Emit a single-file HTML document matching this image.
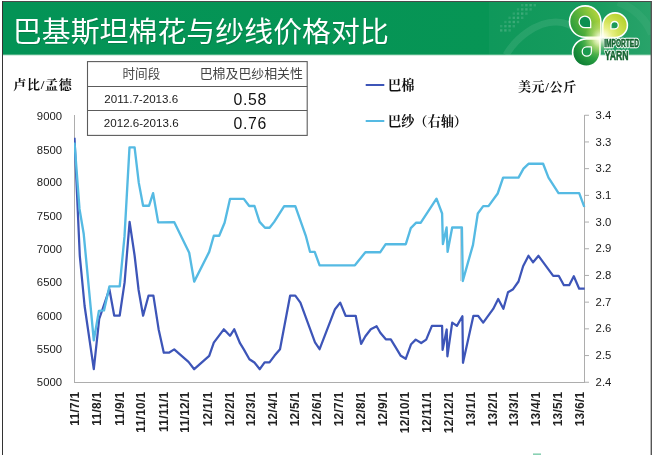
<!DOCTYPE html>
<html lang="zh"><head><meta charset="utf-8"><title>巴基斯坦棉花与纱线价格对比</title>
<style>html,body{margin:0;padding:0;background:#fff}body{width:652px;height:455px;overflow:hidden;font-family:"Liberation Sans",sans-serif}svg{display:block;will-change:transform}text{font-family:"Liberation Sans","Noto Sans CJK SC",sans-serif}</style>
</head><body>
<svg width="652" height="455" viewBox="0 0 652 455">
<defs>
<linearGradient id="hg" x1="0" y1="0" x2="1" y2="0"><stop offset="0" stop-color="#039356"/><stop offset="0.75" stop-color="#079555"/><stop offset="0.9" stop-color="#0e9859"/><stop offset="1" stop-color="#22a065"/></linearGradient>
<linearGradient id="p1" x1="0" y1="1" x2="1" y2="0"><stop offset="0" stop-color="#2aa33a"/><stop offset="0.55" stop-color="#8cc63e"/><stop offset="1" stop-color="#d7e36a"/></linearGradient>
<linearGradient id="p2" x1="1" y1="0" x2="0" y2="1"><stop offset="0" stop-color="#9acb3c"/><stop offset="0.6" stop-color="#c9dc3a"/><stop offset="1" stop-color="#eef3a0"/></linearGradient>
<linearGradient id="p3" x1="0" y1="1" x2="1" y2="0"><stop offset="0" stop-color="#0a7a35"/><stop offset="0.6" stop-color="#2aa340"/><stop offset="1" stop-color="#b9db7a"/></linearGradient>
<clipPath id="plot"><rect x="74" y="100" width="512" height="290"/></clipPath>
<clipPath id="hdr"><rect x="3" y="2" width="648" height="52.8"/></clipPath>
</defs>
<rect width="652" height="455" fill="#fff"/>
<rect x="3" y="2" width="648" height="52.8" fill="url(#hg)"/>
<rect x="3" y="54.6" width="648" height="1" fill="#8fcfae" opacity="0.6"/>
<g clip-path="url(#hdr)"><rect x="489" y="2" width="162" height="52.8" fill="#fff" opacity="0.035"/><rect x="500.0" y="25.0" width="2.4" height="2.4" fill="#fff" opacity="0.11"/><rect x="500.0" y="29.2" width="2.4" height="2.4" fill="#fff" opacity="0.17"/><rect x="504.2" y="20.8" width="2.4" height="2.4" fill="#fff" opacity="0.11"/><rect x="504.2" y="25.0" width="2.4" height="2.4" fill="#fff" opacity="0.16"/><rect x="504.2" y="29.2" width="2.4" height="2.4" fill="#fff" opacity="0.18"/><rect x="508.4" y="16.6" width="2.4" height="2.4" fill="#fff" opacity="0.11"/><rect x="508.4" y="20.8" width="2.4" height="2.4" fill="#fff" opacity="0.16"/><rect x="508.4" y="25.0" width="2.4" height="2.4" fill="#fff" opacity="0.18"/><rect x="508.4" y="29.2" width="2.4" height="2.4" fill="#fff" opacity="0.13"/><rect x="512.6" y="12.4" width="2.4" height="2.4" fill="#fff" opacity="0.11"/><rect x="512.6" y="16.6" width="2.4" height="2.4" fill="#fff" opacity="0.17"/><rect x="512.6" y="20.8" width="2.4" height="2.4" fill="#fff" opacity="0.18"/><rect x="512.6" y="25.0" width="2.4" height="2.4" fill="#fff" opacity="0.13"/><rect x="516.8" y="8.2" width="2.4" height="2.4" fill="#fff" opacity="0.11"/><rect x="516.8" y="12.4" width="2.4" height="2.4" fill="#fff" opacity="0.16"/><rect x="516.8" y="16.6" width="2.4" height="2.4" fill="#fff" opacity="0.18"/><rect x="516.8" y="20.8" width="2.4" height="2.4" fill="#fff" opacity="0.13"/><rect x="521.0" y="4.0" width="2.4" height="2.4" fill="#fff" opacity="0.11"/><rect x="521.0" y="8.2" width="2.4" height="2.4" fill="#fff" opacity="0.16"/><rect x="521.0" y="12.4" width="2.4" height="2.4" fill="#fff" opacity="0.18"/><rect x="521.0" y="16.6" width="2.4" height="2.4" fill="#fff" opacity="0.13"/><rect x="525.2" y="4.0" width="2.4" height="2.4" fill="#fff" opacity="0.17"/><rect x="525.2" y="8.2" width="2.4" height="2.4" fill="#fff" opacity="0.18"/><rect x="525.2" y="12.4" width="2.4" height="2.4" fill="#fff" opacity="0.13"/><rect x="529.4" y="4.0" width="2.4" height="2.4" fill="#fff" opacity="0.18"/><rect x="529.4" y="8.2" width="2.4" height="2.4" fill="#fff" opacity="0.13"/><rect x="533.6" y="4.0" width="2.4" height="2.4" fill="#fff" opacity="0.13"/><path d="M506 55C516 38 536 22 556 22C566 22 572 26 578 30" fill="none" stroke="#fff" stroke-opacity="0.09" stroke-width="7"/><path d="M618 2C634 8 646 20 652 34" fill="none" stroke="#fff" stroke-opacity="0.045" stroke-width="8"/></g>
<rect x="2" y="1" width="649.5" height="1" fill="#4a4a4a"/>
<rect x="2" y="1" width="1" height="454" fill="#333"/>
<rect x="650.6" y="1" width="1.4" height="454" fill="#555"/>
<text x="12.8" y="42.4" font-size="28.9" textLength="376" fill="#04673a" opacity="0.45" transform="translate(0.9 0.9)">巴基斯坦棉花与纱线价格对比</text>
<text x="12.8" y="42.4" font-size="28.9" textLength="376" fill="#fff">巴基斯坦棉花与纱线价格对比</text>
<g fill="none" stroke="#5c5c5c" stroke-width="1.1">
<rect x="87.5" y="61.6" width="219.7" height="73.8"/>
<path d="M87.5 86.5H307.2M87.5 110.5H307.2"/>
</g>
<text x="141.4" y="78.3" font-size="12.6" text-anchor="middle" fill="#444">时间段</text>
<text x="251.3" y="78.4" font-size="12.9" text-anchor="middle" fill="#444">巴棉及巴纱相关性</text>
<text x="141.2" y="103.2" font-size="11.6" text-anchor="middle" fill="#1a1a1a">2011.7-2013.6</text>
<text x="141.2" y="127.2" font-size="11.6" text-anchor="middle" fill="#1a1a1a">2012.6-2013.6</text>
<text x="250.2" y="105" font-size="15.8" letter-spacing="0.7" text-anchor="middle" fill="#111">0.58</text>
<text x="250.2" y="129.2" font-size="15.8" letter-spacing="0.7" text-anchor="middle" fill="#111">0.76</text>
<text x="13.3" y="89" font-size="13" font-weight="bold" textLength="58.4" fill="#111" style="font-family:'Liberation Serif','Noto Serif CJK SC',serif">卢比/孟德</text>
<text x="517.9" y="90.6" font-size="13" font-weight="bold" textLength="58.4" fill="#111" style="font-family:'Liberation Serif','Noto Serif CJK SC',serif">美元/公斤</text>
<path d="M365.7 85H384.3" stroke="#3d55b8" stroke-width="2" fill="none"/>
<path d="M365.7 121H384.3" stroke="#55bae3" stroke-width="2" fill="none"/>
<text x="388" y="89.9" font-size="13.2" font-weight="bold" fill="#111" style="font-family:'Liberation Serif','Noto Serif CJK SC',serif">巴棉</text>
<text x="388" y="125.8" font-size="13.2" font-weight="bold" textLength="79" fill="#111" style="font-family:'Liberation Serif','Noto Serif CJK SC',serif">巴纱（右轴）</text>
<g stroke="#adadad" stroke-width="1" fill="none">
<path d="M74.5 115V382.5M74 382.5H585M584.5 115V382.5"/>
<path d="M584.5 115.25h4.5M584.5 141.95h4.5M584.5 168.65h4.5M584.5 195.35h4.5M584.5 222.05h4.5M584.5 248.75h4.5M584.5 275.45h4.5M584.5 302.15h4.5M584.5 328.85h4.5M584.5 355.55h4.5M584.5 382.25h4.5"/>
</g>
<g font-size="11.3" fill="#1a1a1a" text-anchor="end">
<text x="62" y="119.6">9000</text>
<text x="62" y="153.5">8500</text>
<text x="62" y="186.3">8000</text>
<text x="62" y="219.6">7500</text>
<text x="62" y="253.0">7000</text>
<text x="62" y="286.4">6500</text>
<text x="62" y="319.7">6000</text>
<text x="62" y="353.1">5500</text>
<text x="62" y="386.4">5000</text>
</g>
<g font-size="11.3" fill="#1a1a1a">
<text x="595.6" y="118.9">3.4</text>
<text x="595.6" y="145.6">3.3</text>
<text x="595.6" y="172.3">3.2</text>
<text x="595.6" y="199.0">3.1</text>
<text x="595.6" y="225.7">3.0</text>
<text x="595.6" y="252.3">2.9</text>
<text x="595.6" y="279.0">2.8</text>
<text x="595.6" y="305.7">2.7</text>
<text x="595.6" y="332.4">2.6</text>
<text x="595.6" y="359.1">2.5</text>
<text x="595.6" y="385.8">2.4</text>
</g>
<g font-size="11.9" font-weight="bold" fill="#222" text-anchor="end" letter-spacing="0.3">
<text transform="translate(79.1 391.5) rotate(-90)">11/7/1</text>
<text transform="translate(101.4 391.5) rotate(-90)">11/8/1</text>
<text transform="translate(123.7 391.5) rotate(-90)">11/9/1</text>
<text transform="translate(145.3 391.5) rotate(-90)">11/10/1</text>
<text transform="translate(167.7 391.5) rotate(-90)">11/11/1</text>
<text transform="translate(189.3 391.5) rotate(-90)">11/12/1</text>
<text transform="translate(211.6 391.5) rotate(-90)">12/1/1</text>
<text transform="translate(233.9 391.5) rotate(-90)">12/2/1</text>
<text transform="translate(254.8 391.5) rotate(-90)">12/3/1</text>
<text transform="translate(277.1 391.5) rotate(-90)">12/4/1</text>
<text transform="translate(298.7 391.5) rotate(-90)">12/5/1</text>
<text transform="translate(321.0 391.5) rotate(-90)">12/6/1</text>
<text transform="translate(342.6 391.5) rotate(-90)">12/7/1</text>
<text transform="translate(364.9 391.5) rotate(-90)">12/8/1</text>
<text transform="translate(387.2 391.5) rotate(-90)">12/9/1</text>
<text transform="translate(408.8 391.5) rotate(-90)">12/10/1</text>
<text transform="translate(431.2 391.5) rotate(-90)">12/11/1</text>
<text transform="translate(452.8 391.5) rotate(-90)">12/12/1</text>
<text transform="translate(475.1 391.5) rotate(-90)">13/1/1</text>
<text transform="translate(497.4 391.5) rotate(-90)">13/2/1</text>
<text transform="translate(517.6 391.5) rotate(-90)">13/3/1</text>
<text transform="translate(539.9 391.5) rotate(-90)">13/4/1</text>
<text transform="translate(561.5 391.5) rotate(-90)">13/5/1</text>
<text transform="translate(583.8 391.5) rotate(-90)">13/6/1</text>
</g>
<g clip-path="url(#plot)" fill="none" stroke-linejoin="round" stroke-linecap="butt">
<path d="M460.6 229V281" stroke="#d4d4d4" stroke-width="1.2"/>
<polyline points="74.5,137.8 79.8,256.0 84.6,306.0 93.8,369.2 99.2,319.0 109.4,289.2 114.2,315.5 119.7,315.5 124.6,282.4 129.6,221.9 134.6,255.5 138.6,290.0 143.1,315.7 148.5,295.7 153.4,295.7 158.6,329.2 163.8,352.7 168.9,352.7 174.2,349.4 188.5,361.9 194.2,369.2 209.2,355.8 213.8,342.7 223.8,329.3 230.0,335.8 234.2,329.3 240.0,343.2 243.8,349.4 249.4,359.2 254.4,362.5 259.8,369.2 264.6,362.4 269.5,362.4 274.6,355.6 280.0,349.2 290.1,295.7 295.3,295.7 300.4,302.6 315.0,342.3 319.6,349.2 335.0,309.2 340.2,302.6 345.6,315.8 355.7,315.8 361.1,343.9 365.4,336.2 370.8,329.2 376.6,326.2 380.3,332.7 385.8,339.3 390.8,339.3 395.7,347.3 400.8,355.8 405.7,358.8 411.1,344.2 415.7,339.6 421.2,343.0 426.2,339.6 431.9,325.9 442.1,325.9 442.6,349.9 446.7,329.5 447.4,356.3 452.2,322.6 456.9,325.9 462.4,316.2 463.0,362.8 473.4,315.8 478.0,315.8 483.2,322.6 493.2,308.9 498.2,299.0 503.4,308.8 508.0,292.3 513.1,289.2 518.5,281.5 523.1,266.2 528.5,255.8 533.1,262.3 538.5,255.8 553.2,275.8 558.7,275.8 563.9,285.2 569.2,285.2 573.8,276.2 579.2,288.7 584.7,288.7" stroke="#3d55b8" stroke-width="2.25"/>
<polyline points="74.5,142.1 79.5,208.5 83.7,233.4 93.8,340.0 98.9,310.5 104.0,310.0 109.4,286.0 119.7,286.0 124.5,236.0 129.5,147.0 134.6,147.0 138.8,182.5 143.1,205.4 149.0,205.4 153.1,192.8 158.2,222.0 174.3,221.8 189.2,252.3 194.2,281.2 209.2,251.5 213.8,235.4 219.2,235.4 224.6,222.3 230.0,198.5 243.8,198.5 249.2,205.6 254.5,205.6 259.6,221.5 265.0,227.4 269.6,227.4 274.2,221.5 284.2,205.8 295.3,205.8 305.8,235.4 310.0,251.4 314.7,251.5 319.6,264.9 354.9,264.9 365.4,251.8 380.3,251.8 385.7,243.8 405.8,243.8 410.8,227.7 416.2,222.3 420.8,222.3 436.5,198.3 442.1,213.1 442.9,243.7 446.6,227.1 447.6,251.5 452.2,227.1 461.9,227.1 462.8,280.6 468.0,262.0 473.0,244.5 477.8,213.1 483.2,205.7 488.5,205.7 497.7,193.1 503.1,177.2 518.5,177.2 523.5,168.2 528.5,163.4 543.1,163.4 548.5,177.2 558.5,192.7 579.2,192.7 584.3,206.5" stroke="#55bae3" stroke-width="2.35" transform="translate(0 0.4)"/>
</g>
<defs>
<linearGradient id="g1" gradientUnits="userSpaceOnUse" x1="571" y1="30" x2="601" y2="14"><stop offset="0" stop-color="#259a3c"/><stop offset="0.45" stop-color="#63b63a"/><stop offset="1" stop-color="#bcd83c"/></linearGradient>
<radialGradient id="g2" gradientUnits="userSpaceOnUse" cx="602.5" cy="38" r="30"><stop offset="0" stop-color="#fefff0"/><stop offset="0.35" stop-color="#e3ec72"/><stop offset="1" stop-color="#b4d12a"/></radialGradient>
<radialGradient id="g3" gradientUnits="userSpaceOnUse" cx="601" cy="39" r="34"><stop offset="0" stop-color="#f1f9d4"/><stop offset="0.28" stop-color="#86c95a"/><stop offset="0.6" stop-color="#2ba142"/><stop offset="1" stop-color="#0a7a33"/></radialGradient>
<radialGradient id="gg" gradientUnits="userSpaceOnUse" cx="601.2" cy="37.8" r="17"><stop offset="0" stop-color="#fff" stop-opacity="0.98"/><stop offset="0.25" stop-color="#fdfee0" stop-opacity="0.7"/><stop offset="0.6" stop-color="#f4f9b0" stop-opacity="0.28"/><stop offset="1" stop-color="#f4f9b0" stop-opacity="0"/></radialGradient>
</defs>
<g stroke="#fff" stroke-linejoin="round">
<path d="M600.0 52.6A13.7 13.7 0 1 1 586.3 38.9L600.0 38.9Z" fill="url(#g3)" stroke-width="1.6"/>
<path d="M602.8 25.2A12.3 12.3 0 1 1 615.1 37.5L602.8 37.5Z" fill="url(#g2)" stroke-width="1.6"/>
<path d="M585.2 37.3A15.7 15.7 0 1 1 600.9 21.6L600.9 37.3Z" fill="url(#g1)" stroke-width="1.6"/>
<path d="M584.9 27.7A5.8 5.8 0 1 1 590.7 21.9L590.7 27.7Z" fill="#0c8f50" stroke-width="1.3"/>
<path d="M610.9 25.2A3.7 3.7 0 1 1 614.6 28.9L610.9 28.9Z" fill="#1d9a58" stroke-width="1.3"/>
<path d="M591.4 51.5A4.6 4.6 0 1 1 586.8 46.9L591.4 46.9Z" fill="#1a9a4e" stroke-width="1.3"/>
</g>
<circle cx="601.2" cy="37.8" r="17" fill="url(#gg)" clip-path="url(#lg)"/>
<g font-weight="bold" fill="#fff" stroke="#fff" stroke-width="2.6" stroke-linejoin="round">
<text transform="translate(604.2 47.2) scale(0.64 1)" font-size="10.3">IMPORTED</text>
<text transform="translate(604.8 60.1) scale(0.635 1)" font-size="13.7">YARN</text>
</g>
<g font-weight="bold" fill="#12632f" stroke="#12632f" stroke-width="0.55" stroke-linejoin="round">
<text transform="translate(604.2 47.2) scale(0.64 1)" font-size="10.3">IMPORTED</text>
<text transform="translate(604.8 60.1) scale(0.635 1)" font-size="13.7">YARN</text>
</g>
<rect x="533" y="453.4" width="8" height="1.6" fill="#6cc5a0" opacity="0.8"/>
</svg></body></html>
